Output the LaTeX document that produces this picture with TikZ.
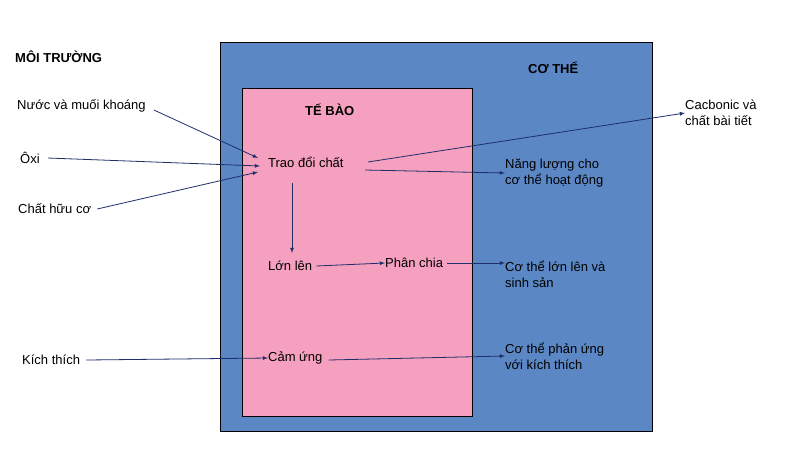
\documentclass[tikz,border=0pt]{standalone}
\usepackage{fontspec}
\setmainfont{Liberation Sans}
\definecolor{bluebg}{HTML}{5B87C5}
\definecolor{pinkbg}{HTML}{F5A0BE}
\definecolor{arr}{HTML}{1F2F6B}
\begin{document}
\begin{tikzpicture}[x=1pt,y=-1pt,
  lbl/.style={anchor=west,inner sep=0pt,font=\fontsize{13}{16}\selectfont,align=left},
  ttl/.style={lbl,font=\fontsize{13}{16}\selectfont\bfseries},
  ar/.style={draw=arr,-latex,line width=0.8pt}]
\useasboundingbox (0,0) rectangle (791,456);
\fill[white] (0,0) rectangle (791,456);
\node[draw=black,fill=bluebg,minimum width=432,minimum height=389,anchor=north west,inner sep=0] (body) at (220,42) {};
\node[draw=black,fill=pinkbg,minimum width=230,minimum height=328,anchor=north west,inner sep=0] (cell) at (242,88) {};
\node[ttl] (mt) at (15,57) {MÔI TRƯỜNG};
\node[ttl] (ct) at (528,68) {CƠ THỂ};
\node[ttl] (tb) at (305,110) {TẾ BÀO};
\node[lbl] (nuoc) at (17,106) {Nước và muối khoáng};
\node[lbl] (oxi) at (20,158) {Ôxi};
\node[lbl] (hc) at (18,209) {Chất hữu cơ};
\node[lbl] (kt) at (22,360) {Kích thích};
\node[lbl] (tdc) at (268,162) {Trao đổi chất};
\node[lbl] (ll) at (268,266) {Lớn lên};
\node[lbl] (pc) at (385,263) {Phân chia};
\node[lbl] (cu) at (268,358) {Cảm ứng};
\node[lbl] (nl) at (505,173) {Năng lượng cho\\cơ thể hoạt động};
\node[lbl] (cl) at (505,274) {Cơ thể lớn lên và\\sinh sản};
\node[lbl] (pu) at (505,356) {Cơ thể phản ứng\\với kích thích};
\node[lbl] (cb) at (685,113) {Cacbonic và\\chất bài tiết};
\draw[ar] (nuoc.east)++(8,4) -- (258,158);
\draw[ar] (oxi.east)++(8,0) -- (260,166);
\draw[ar] (hc.east)++(6,0) -- (258,172);
\draw[ar] (365,170) -- (nl.west);
\draw[ar] (368,162) -- (cb.west);
\draw[ar] (292,183) -- (292,253);
\draw[ar] (ll.east)++(4,0) -- (pc.west);
\draw[ar] (pc.east)++(4,0) -- (cl.west |- pc.east);
\draw[ar] (kt.east)++(6,0) -- (cu.west);
\draw[ar] (cu.east)++(6,2) -- (pu.west);
\end{tikzpicture}
\end{document}
